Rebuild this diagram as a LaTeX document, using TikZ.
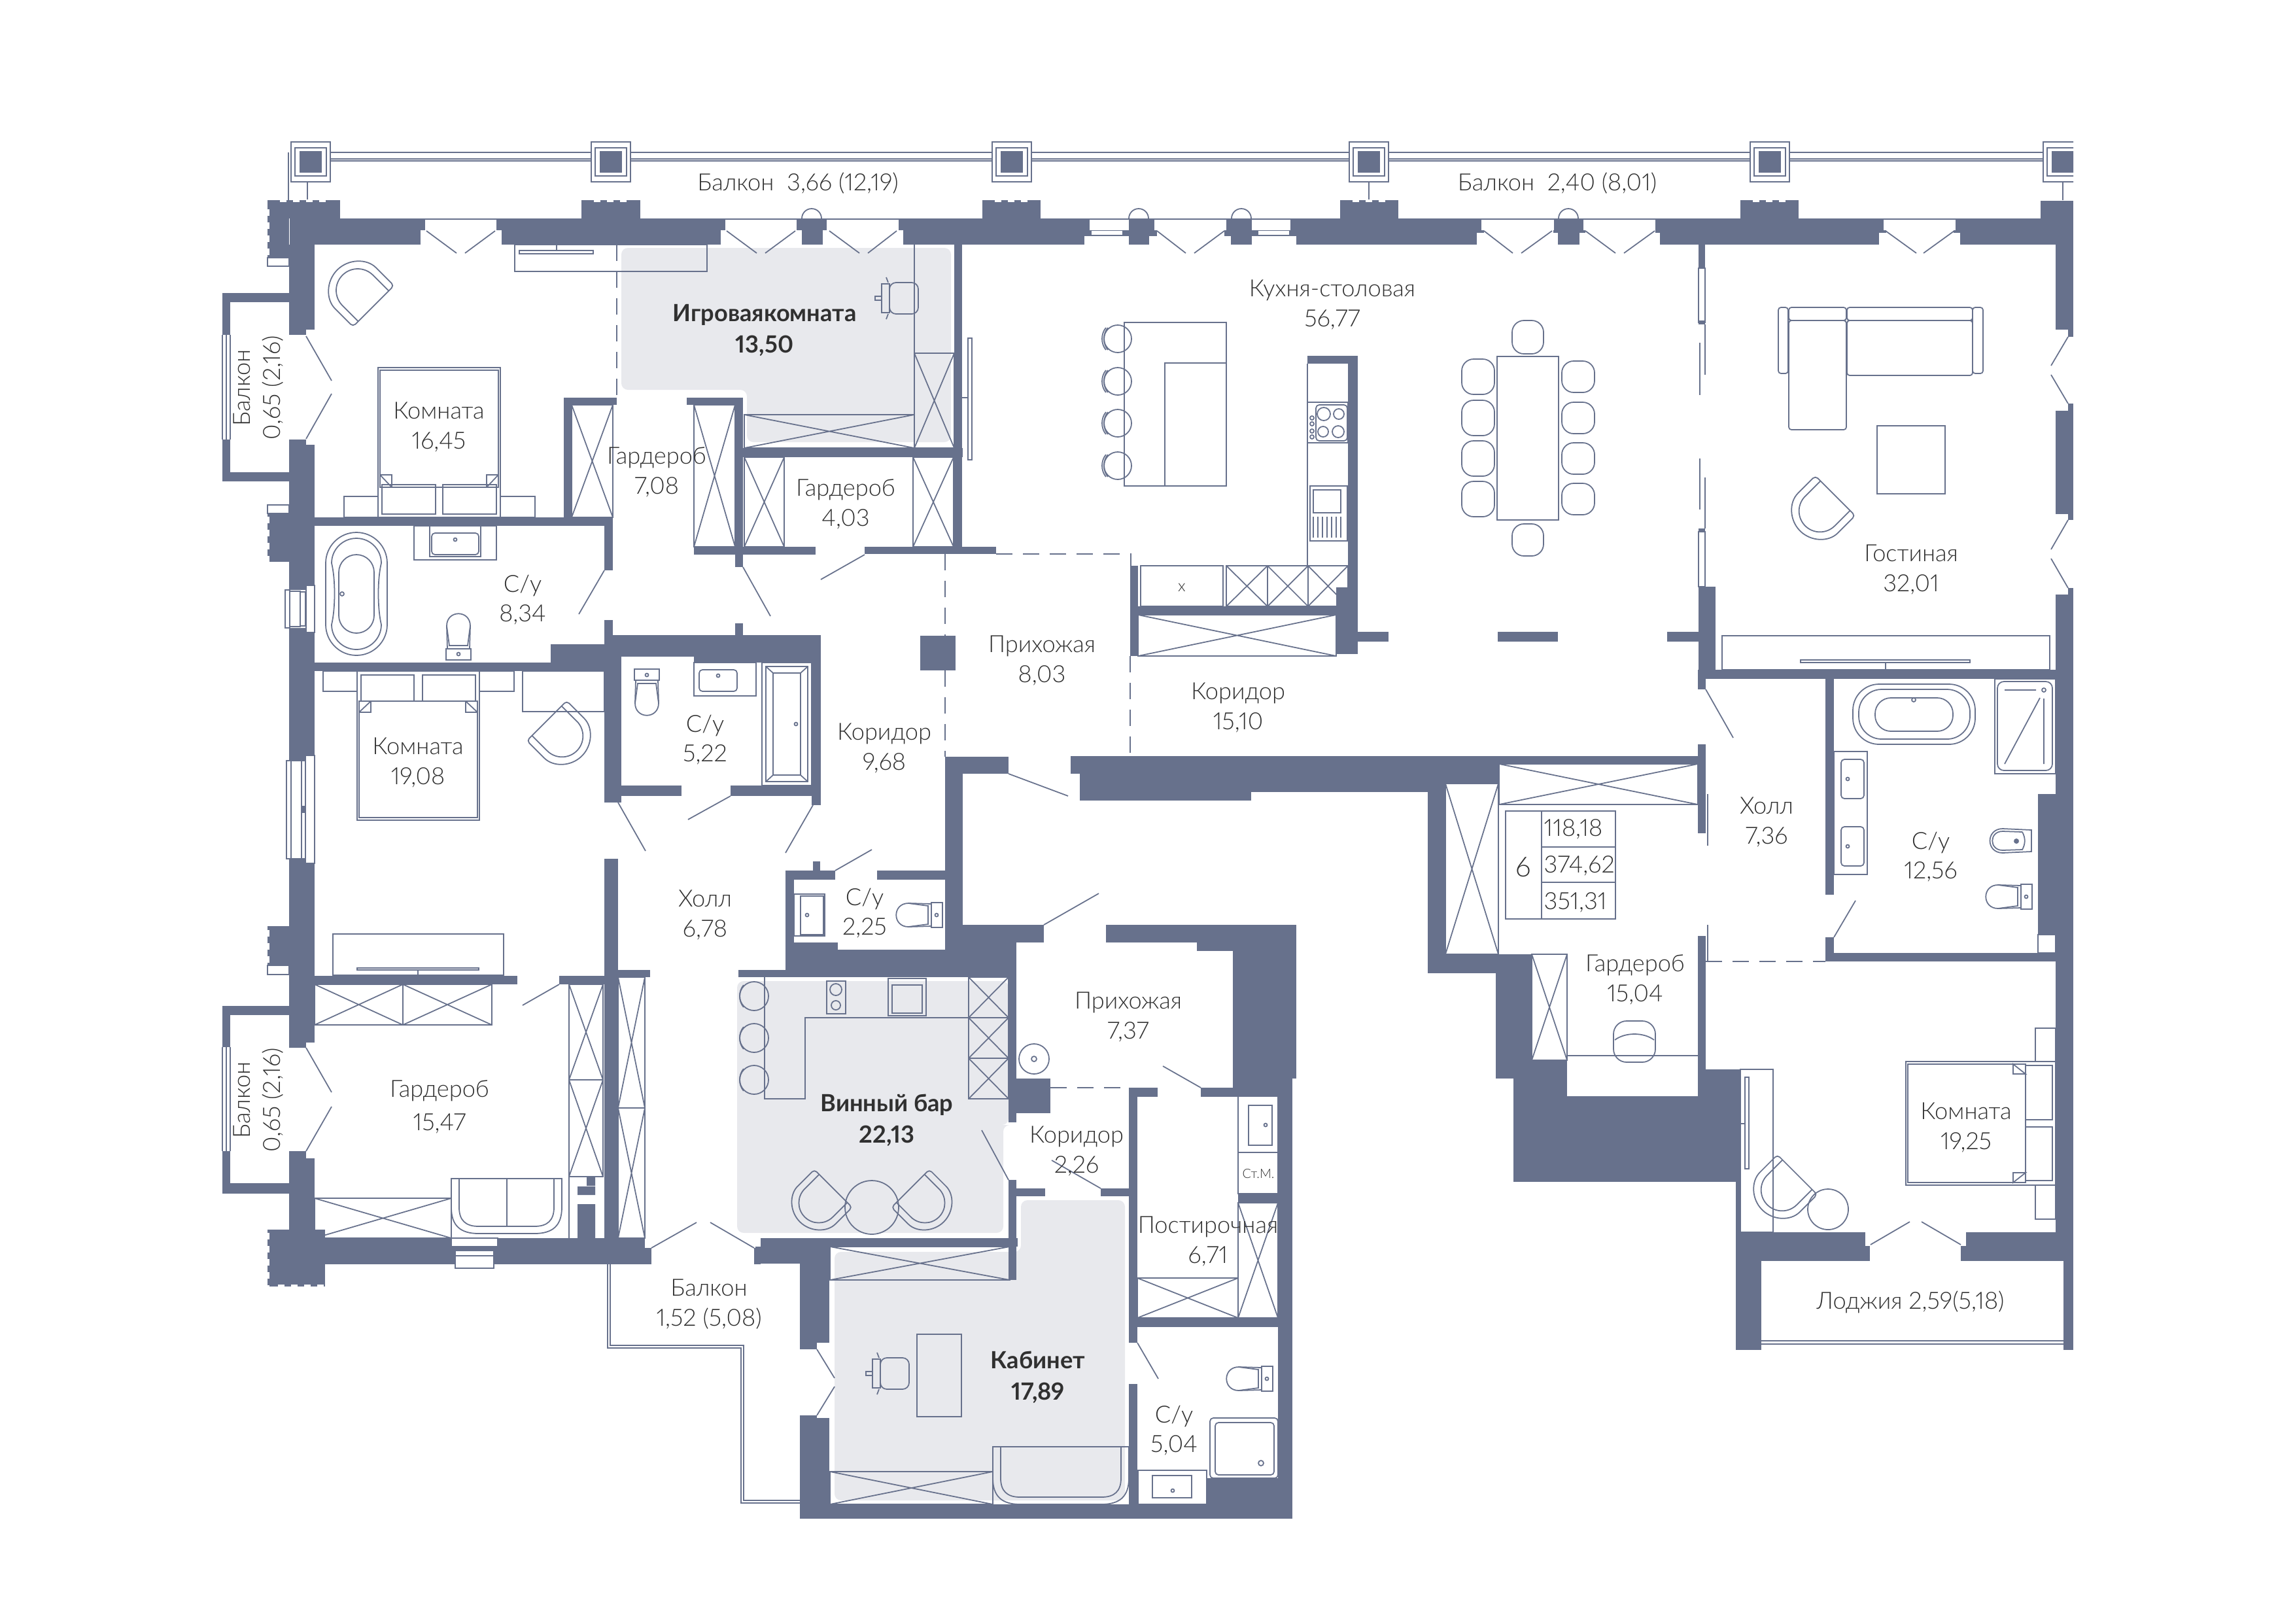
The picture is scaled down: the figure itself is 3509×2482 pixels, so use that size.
\documentclass[tikz,border=0pt]{standalone}
\usepackage{fontspec}
\setmainfont{Lato}[UprightFont=* Light,BoldFont=* Bold,Numbers=Proportional]
\definecolor{wallblue}{HTML}{67718C}
\definecolor{roomgray}{HTML}{E8E9ED}
\definecolor{labelgray}{HTML}{303030}
\tikzset{
  ln/.style={draw=wallblue,line width=0.5pt},
  dashln/.style={draw=wallblue,line width=0.5pt,dash pattern=on 2.5mm off 1.6mm},
  room/.style={text=labelgray,font=\fontsize{10.3}{13}\selectfont,align=center,inner sep=0pt,yshift=-0.3mm},
  roomb/.style={text=labelgray,font=\bfseries\fontsize{10.3}{13.5}\selectfont,align=center,inner sep=0pt,yshift=-0.3mm}
}
% furniture in picture coordinates
\newcommand{\xbox}[4]{\draw[ln] (#1,#2) rectangle (#3,#4) (#1,#2) -- (#3,#4) (#1,#4) -- (#3,#2);}
\newcommand{\armchair}[4]{\begin{scope}[shift={(#1,#2)},rotate=#3,scale=#4]
  \draw[ln,rounded corners=0.5mm] (-43,0) -- (-43,33) arc[start angle=180,end angle=0,radius=43] -- (43,0) -- cycle;
  \draw[ln] (-32,0) -- (-32,33) arc[start angle=180,end angle=0,radius=32] -- (32,0);
  \end{scope}}
\newcommand{\toilet}[3]{\begin{scope}[shift={(#1,#2)},rotate=#3]
  \draw[ln] (-8,-19) rectangle (9,19);
  \draw[ln] (-8,-17) -- (-43,-18) .. controls (-68,-18) and (-68,18) .. (-43,18) -- (-8,17);
  \draw[ln] (-43,-18) -- (-13,-14) -- (-13,14) -- (-43,18);
  \draw[ln] (0,0) circle (2.5);
  \end{scope}}
\newcommand{\officechair}[3]{\begin{scope}[shift={(#1,#2)},rotate=#3]
  \draw[ln,rounded corners=1mm] (-22,-24) rectangle (22,24);
  \draw[ln] (-34,-22) rectangle (-22,22) (-44,-3) rectangle (-34,3) (-24,-24) -- (-27,-32) (-24,24) -- (-27,32);
  \end{scope}}
\newcommand{\ubench}[4]{\draw[ln] (#1,#2) -- (#1,#4-40) .. controls (#1,#4-12) and (#1+14,#4) .. (#1+42,#4) -- (#3-42,#4) .. controls (#3-14,#4) and (#3,#4-12) .. (#3,#4-40) -- (#3,#2) -- cycle;
  \draw[ln] (#1+12,#2) -- (#1+12,#4-40) .. controls (#1+12,#4-20) and (#1+22,#4-11) .. (#1+42,#4-11) -- (#3-42,#4-11) .. controls (#3-22,#4-11) and (#3-12,#4-20) .. (#3-12,#4-40) -- (#3-12,#2);}
\begin{document}
\begin{tikzpicture}[x=0.1mm,y=-0.1mm]
    \useasboundingbox (0,0) rectangle (3509,2482);
    % shaded rooms
    \fill[roomgray,rounded corners=1mm] (950,379) -- (1454,379) -- (1454,676) -- (1142,676) -- (1142,596) -- (950,596) -- cycle;
    \fill[roomgray,rounded corners=1mm] (1127,1500) -- (1542,1500) -- (1542,1720) -- (1534,1720) -- (1534,1885) -- (1127,1885) -- cycle;
    \fill[roomgray,rounded corners=1mm] (1276,1914) -- (1561,1914) -- (1561,1835) -- (1720,1835) -- (1720,2294) -- (1276,2294) -- cycle;
    % balcony rails
    \begin{scope}
    \clip (0,0) rectangle (3170,2482);
    \draw[ln] (445,233) -- (3170,233) (445,243) -- (3170,243) (445,246) -- (3170,246);
    \draw[ln] (441,233) -- (441,306) (3154,278) -- (3154,306);
    \foreach \px in {475,934,1547,2093,2706,3154} {
      \fill[white] (\px-30,217) rectangle (\px+30,278);
      \draw[ln] (\px-30,217) rectangle (\px+30,278);
      \draw[ln] (\px-24,226) rectangle (\px+24,269);
      \fill[wallblue] (\px-17,231) rectangle (\px+17,264);
    }
    \end{scope}
    \draw[ln] (470,278) -- (470,306) (2093,278) -- (2093,306);
    \draw[ln] (933,1933) -- (933,2057) -- (1137,2057) -- (1137,2294) -- (1223,2294);
    \draw[ln] (929,1933) -- (929,2061) -- (1133,2061) -- (1133,2298) -- (1223,2298);
    \draw[ln] (2693,2050) -- (3155,2050) (2693,2055) -- (3155,2055);
    \foreach \px in {1241,1741,1898,2398} {
      \draw[ln] (\px-15,334) arc[start angle=180,end angle=360,radius=15];
    }
    % wardrobes
    \foreach \a/\b/\c/\d in {1138/634/1398/685,1398/540/1459/685,874/619/937/791,1061/619/1124/836,
      1138/699/1199/836,1396/699/1458/836,1875/865/1938/927,1938/865/2000/927,2000/865/2061/927,
      1740/940/2043/1003,2292/1168/2596/1230,2210/1198/2291/1459,2342/1459/2396/1621,
      481/1505/616/1567,616/1505/752/1567,870/1505/922/1651,870/1651/922/1799,945/1494/986/1694,
      945/1694/986/1893,481/1832/690/1893,1481/1494/1542/1556,1481/1556/1542/1618,1481/1618/1542/1680,
      1269/1906/1544/1957,1269/2250/1518/2300,1739/1954/1893/2015,1893/1839/1954/2015} {
      \xbox{\a}{\b}{\c}{\d}
    }
    % room 16,45
    \draw[ln] (787,374) rectangle (1081,415) (1398,374) -- (1398,540);
    \draw[ln] (794,383) rectangle (907,388) (851,374) -- (851,383);
    \armchair{571}{468}{225}{1.03}
    \draw[ln] (578,562) rectangle (765,791) (581,566) rectangle (762,745);
    \draw[ln] (581,726) -- (599,726) -- (599,745) (762,726) -- (744,726) -- (744,745) (581,726) -- (599,745) (762,726) -- (744,745);
    \draw[ln] (584,741) rectangle (666,786) (677,741) rectangle (759,786);
    \draw[ln] (526,759) rectangle (578,791) (765,759) rectangle (818,791);
    % bath 8,34
    \draw[ln,rounded corners=4.7mm] (498,814) rectangle (592,1002);
    \draw[ln] (507,861) arc[start angle=180,end angle=360,radius=38] .. controls (577,885) and (577,930) .. (583,955) arc[start angle=0,end angle=180,radius=38] .. controls (513,930) and (513,885) .. (507,861) -- cycle;
    \draw[ln,rounded corners=2.7mm] (518,848) rectangle (572,968);
    \draw[ln] (523,908) circle (3);
    \draw[ln] (633,804) rectangle (759,856) (657,804) rectangle (735,851);
    \draw[ln,rounded corners=0.5mm] (660,815) rectangle (732,848);
    \draw[ln] (696,825) circle (2.5);
    \toilet{701}{1000}{-90}
    % bath 5,22
    \toilet{989}{1032}{90}
    \draw[ln] (1061,1013) rectangle (1156,1064);
    \draw[ln,rounded corners=0.5mm] (1069,1024) rectangle (1127,1057);
    \draw[ln] (1098,1033) circle (2.5);
    \draw[ln] (1165,1013) rectangle (1241,1201) (1171,1019) rectangle (1235,1195) (1182,1029) rectangle (1224,1185);
    \draw[ln] (1171,1019) -- (1182,1029) (1235,1019) -- (1224,1029) (1171,1195) -- (1182,1185) (1235,1195) -- (1224,1185);
    \draw[ln] (1217,1107) circle (2.5);
    % room 19,08
    \draw[ln] (546,1026) rectangle (733,1254) (549,1072) rectangle (730,1250);
    \draw[ln] (549,1089) -- (567,1072) (730,1089) -- (712,1072) (549,1089) -- (567,1089) -- (567,1072) (730,1089) -- (712,1089) -- (712,1072);
    \draw[ln] (552,1032) rectangle (633,1072) (646,1032) rectangle (727,1072);
    \draw[ln] (494,1026) rectangle (546,1057) (733,1026) rectangle (786,1057);
    \draw[ln] (799,1026) rectangle (924,1088);
    \armchair{836}{1102}{45}{1}
    % room 15,47
    \draw[ln] (509,1428) rectangle (770,1491) (546,1480) rectangle (732,1483) (639,1483) -- (639,1491);
    \ubench{690}{1802}{859}{1886}
    \draw[ln] (775,1802) -- (775,1875) (870,1799) -- (870,1893);
    \fill[wallblue] (897,1800) rectangle (910,1813) (883,1814) rectangle (910,1827) (883,1841) rectangle (910,1893);
    % kitchen
    \draw[ln] (1480,517) rectangle (1486,703) (1471,608) -- (1480,608);
    \draw[ln] (1719,493) rectangle (1875,743) (1781,555) rectangle (1875,743);
    \foreach \py in {518,583,647,712} {
      \draw[ln] (1709,\py) circle (21);
      \draw[ln] (1694,\py-17) .. controls (1686,\py-8) and (1686,\py+8) .. (1694,\py+17);
      \draw[ln] (1691,\py-17) .. controls (1683,\py-8) and (1683,\py+8) .. (1691,\py+17);
    }
    \draw[ln] (1999,556) -- (1999,865) (1999,615) rectangle (2061,677);
    \draw[ln,rounded corners=0.5mm] (2012,619) rectangle (2060,674);
    \draw[ln] (2024,633) circle (10) (2047,633) circle (8) (2023,660) circle (8) (2046,660) circle (9);
    \foreach \py in {639,648,659,668} { \draw[ln] (2006,\py) circle (3); }
    \draw[ln] (2003,743) rectangle (2060,827) (2008,749) rectangle (2050,784);
    \foreach \px in {2008,2015,...,2050} { \draw[ln] (\px,790) -- (\px,822); }
    \draw[ln] (1744,865) rectangle (1870,927);
    \node[text=labelgray,font=\fontsize{7}{8}\selectfont,inner sep=0pt] (ovenmark) at (1807,898) {x};
    % dining set
    \draw[ln] (2289,545) rectangle (2383,795);
    \foreach \py in {576,639,701,763} {
      \draw[ln,rounded corners=1.8mm] (2235,\py-27) rectangle (2285,\py+27);
      \draw[ln,rounded corners=1.8mm] (2388,\py-24) rectangle (2438,\py+24);
    }
    \draw[ln,rounded corners=1.8mm] (2312,490) rectangle (2360,541) (2312,801) rectangle (2360,850);
    % living room
    \draw[ln,rounded corners=0.4mm] (2719,470) rectangle (2734,571) (3016,470) rectangle (3032,571);
    \draw[ln,rounded corners=0.4mm] (2735,470) rectangle (2823,490) (2824,470) rectangle (3016,490);
    \draw[ln,rounded corners=0.4mm] (2824,490) rectangle (3016,574) (2735,490) rectangle (2823,657);
    \draw[ln] (2870,651) rectangle (2974,755);
    \armchair{2806}{758}{-45}{1}
    \draw[ln] (2633,972) rectangle (3134,1024) (2753,1009) rectangle (3012,1013) (2883,1013) -- (2883,1024);
    \draw[ln] (2597,410) rectangle (2607,493) (2597,813) rectangle (2607,897);
    \draw[ln] (2607,496) -- (2607,573) (2599,524) -- (2599,604) (2599,701) -- (2599,779) (2607,730) -- (2607,808);
    % bath 12,56
    \draw[ln,rounded corners=4mm] (2833,1046) rectangle (3020,1138);
    \draw[ln,rounded corners=3.5mm] (2842,1054) rectangle (3012,1130);
    \draw[ln,rounded corners=2.4mm] (2867,1067) rectangle (2986,1118);
    \draw[ln] (2926,1070) circle (3);
    \draw[ln] (3050,1038) rectangle (3143,1183);
    \draw[ln,rounded corners=1mm] (3054,1042) rectangle (3138,1178);
    \draw[ln] (3065,1055) -- (3113,1055) (3125,1055) circle (3) (3125,1068) -- (3125,1168) (3119,1067) -- (3065,1168);
    \draw[ln] (2804,1149) rectangle (2855,1337);
    \draw[ln,rounded corners=0.5mm] (2815,1161) rectangle (2850,1221) (2815,1264) rectangle (2850,1324);
    \draw[ln] (2825,1191) circle (2.5) (2825,1294) circle (2.5);
    \toilet{3098}{1371}{0}
    \draw[ln] (3106,1269) -- (3062,1267) .. controls (3036,1267) and (3036,1304) .. (3062,1304) -- (3106,1302) -- cycle;
    \draw[ln] (3092,1272) -- (3062,1271) .. controls (3041,1271) and (3041,1300) .. (3062,1300) -- (3092,1299) .. controls (3097,1290) and (3097,1281) .. (3092,1272);
    \fill[wallblue] (3083,1286) circle (4);
    \draw[ln] (3116,1429) rectangle (3143,1457);
    % room 15,04 and table
    \draw[ln] (2396,1614) -- (2596,1614);
    \draw[ln,rounded corners=2mm] (2467,1561) rectangle (2531,1624);
    \draw[ln] (2469,1590) .. controls (2485,1578) and (2513,1578) .. (2529,1590);
    \draw[ln] (2302,1240) rectangle (2470,1405) (2357,1240) -- (2357,1405) (2357,1295) -- (2470,1295) (2357,1349) -- (2470,1349);
    \draw[ln] (2611,1214) -- (2611,1293) (2611,1414) -- (2611,1470);
    % room 19,25
    \draw[ln] (2661,1635) rectangle (2711,1884) (2668,1647) rectangle (2674,1787) (2661,1718) -- (2668,1718);
    \armchair{2748}{1796}{-45}{1}
    \draw[ln] (2795,1849) circle (31);
    \draw[ln] (2914,1623) rectangle (3143,1812) (2917,1627) rectangle (3097,1808);
    \draw[ln] (3078,1627) -- (3078,1642) -- (3097,1642) -- cycle (3078,1808) -- (3078,1793) -- (3097,1793) -- cycle;
    \draw[ln] (3097,1629) rectangle (3138,1712) (3097,1723) rectangle (3138,1805);
    \draw[ln] (3112,1572) rectangle (3143,1623) (3112,1812) rectangle (3143,1864);
    % C/u 2,25 and wine bar
    \draw[ln] (1214,1367) rectangle (1261,1431) (1224,1370) rectangle (1259,1429) (1234,1399) circle (2.5);
    \toilet{1432}{1399}{0}
    \draw[ln] (1169,1494) -- (1169,1680) -- (1231,1680) -- (1231,1556) -- (1481,1556);
    \draw[ln] (1264,1500) rectangle (1293,1550) (1278,1513) circle (9) (1278,1537) circle (7);
    \draw[ln] (1358,1496) rectangle (1416,1553) (1364,1506) rectangle (1410,1549);
    \foreach \py in {1523,1587,1651} {
      \draw[ln] (1153,\py) circle (22);
      \draw[ln] (1137,\py-17) .. controls (1129,\py-8) and (1129,\py+8) .. (1137,\py+17);
    }
    \draw[ln] (1333,1846) circle (41);
    \armchair{1274}{1817}{-45}{0.95}
    \armchair{1392}{1817}{45}{0.95}
    % hall and laundry
    \draw[ln] (1581,1619) circle (23) (1581,1619) circle (4);
    \draw[ln] (1893,1676) rectangle (1954,1762) (1909,1690) rectangle (1945,1751) (1935,1720) circle (2.5);
    \draw[ln] (1893,1762) rectangle (1954,1825);
    \node[text=labelgray,font=\fontsize{5.6}{7}\selectfont,inner sep=0pt] (stm) at (1924,1795) {Ст.М.};
    % cabinet
    \draw[ln] (1402,2040) rectangle (1470,2166);
    \officechair{1368}{2100}{0}
    \officechair{1382}{456}{0}
    \ubench{1518}{2212}{1726}{2300}
    \draw[ln,rounded corners=0.5mm] (1850,2168) rectangle (1954,2260) (1858,2175) rectangle (1948,2255);
    \draw[ln] (1928,2237) circle (4);
    \toilet{1937}{2108}{0}
    \draw[ln] (1740,2248) rectangle (1845,2300) (1762,2256) rectangle (1822,2290) (1793,2279) circle (2.5);
    % walls
    \fill[wallblue] (443,334) rectangle (3170,374);
    \foreach \a/\b/\c/\d in {650/336/759/352,643/352/767/375,1109/336/1218/352,1102/352/1226/375,
      1258/352/1381/375,1264/336/1374/352,1666/336/1726/352,1669/353/1716/359,1658/361/1726/375,
      1765/336/1875/352,1769/352/1872/361,1757/361/1882/375,1914/336/1973/352,1924/353/1971/359,
      1914/361/1982/375,2265/336/2376/352,2269/352/2375/356,2258/356/2382/375,2421/336/2531/352,
      2424/352/2531/356,2415/356/2538/375,2880/336/2990/352,2884/352/2987/356,2873/356/2997/375} {
      \fill[white] (\a,\b) rectangle (\c,\d);
    }
    \foreach \a/\b/\c/\d in {409/306/520/334,409/334/442/394,889/306/979/334,1502/306/1591/334,
      2049/306/2138/334,2661/306/2750/334,3120/307/3170/374,409/785/442/859,409/1416/442/1476,409/1880/497/1967,
      442/374/481/504,442/504/468/512,442/672/468/680,442/680/481/1594,442/1594/468/1602,442/1760/468/1771,442/1771/481/1933,
      340/448/442/462,340/722/442/736,340/462/352/512,340/672/352/722,
      340/1538/442/1552,340/1809/442/1825,340/1552/352/1601,340/1760/352/1809,
      481/791/937/804,924/804/937/872,862/608/874/791,862/608/943/619,1050/608/1136/619,1124/608/1136/867,
      1061/836/1247/848,1136/685/1472/699,1322/836/1523/847,1459/374/1471/847,
      1124/953/1136/971,924/948/937/971,924/971/1255/1004,924/1004/950/1227,1061/1004/1241/1013,1241/971/1255/1231,
      950/1201/1042/1217,1117/1201/1255/1217,481/1013/924/1026,842/985/924/1013,
      924/1313/945/1893,481/1492/791/1505,855/1492/924/1505,945/1483/994/1494,
      481/1893/986/1933,986/1908/996/1933,1153/1908/1163/1933,1163/1893/1556/1906,1155/1906/1269/1932,
      1223/1932/1268/2053,1223/2053/1249/2063,1223/2164/1249/2168,1223/2168/1268/2322,1223/2300/1976/2322,
      1542/1804/1554/1957,1542/1441/1554/1716,1554/1649/1606/1702,1554/1817/1598/1829,1683/1817/1739/1829,
      1726/1664/1739/2053,1726/2116/1739/2300,1726/1663/1770/1677,1836/1663/1954/1677,
      1201/1331/1277/1345,1341/1331/1445/1345,1243/1317/1254/1331,1201/1331/1214/1483,1214/1441/1281/1483,
      1281/1452/1445/1483,1129/1483/1554/1494,1445/1157/1472/1441,1445/1414/1554/1494,1542/1414/1596/1441,
      1445/1157/1542/1183,1637/1156/2291/1183,1651/1183/1913/1224,1913/1183/2183/1211,2183/1183/2291/1198,
      2291/1156/2596/1168,2596/1138/2608/1274,2597/897/2623/1024,2596/1024/2608/1054,2596/1431/2608/1635,
      2183/1198/2210/1488,2183/1459/2287/1488,2287/1459/2342/1649,2342/1621/2396/1649,2314/1649/2396/1676,
      2314/1676/2654/1807,2596/1635/2661/1676,2608/1676/2654/1807,2654/1635/2661/1884,
      2654/1884/2852/1928,2852/1905/2859/1928,2654/1928/2693/2064,2998/1905/3006/1928,3006/1884/3170/1928,
      3155/1928/3170/2064,3143/374/3170/504,3162/504/3170/515,3162/617/3170/628,3143/628/3170/786,
      3162/786/3170/795,3162/899/3170/909,3143/909/3170/1884,
      2597/1024/3170/1038,2549/966/2597/981,2290/966/2382/981,2076/966/2123/981,2061/544/2076/900,
      1999/544/2076/556,2043/898/2076/1000,1728/927/2043/940,1728/865/1740/1003,
      2791/1038/2804/1368,2791/1433/2804/1470,2791/1457/3170/1470,3116/1214/3143/1429,
      1407/972/1461/1025,2597/490/2607/496,2597/808/2607/813,2597/374/2607/410,
      1885/1414/1982/1649,1885/1649/1976/1677,1954/1649/1976/2322,1691/1414/1885/1441,1830/1441/1885/1454,
      1893/1825/1954/1839,1739/2015/1954/2029,1845/2260/1954/2300} {
      \fill[wallblue] (\a,\b) rectangle (\c,\d);
    }
    \draw[line width=1pt,white,dash pattern=on 1mm off 1mm] (1521,307) -- (1575,307) (2068,307) -- (2122,307) (2680,307) -- (2734,307) (908,307) -- (962,307) (428,307) -- (505,307);
    \draw[line width=1pt,white,dash pattern=on 1mm off 1mm] (410,320) -- (410,394) (410,790) -- (410,859) (410,1422) -- (410,1476) (410,1885) -- (410,1967) (425,1966) -- (497,1966);
    % window frames in the left wall
    \fill[white] (436,902) rectangle (467,960) (468,895) rectangle (481,967) (438,1163) rectangle (467,1313) (467,1155) rectangle (481,1320);
    \draw[ln] (436,902) rectangle (443,960) (443,904) rectangle (459,958) (459,905) rectangle (467,957);
    \draw[ln] (468,895) rectangle (481,967);
    \draw[ln] (438,1163) rectangle (445,1313) (445,1163) rectangle (461,1313) (461,1163) rectangle (467,1313);
    \draw[ln] (467,1155) rectangle (481,1320);
    \fill[wallblue] (461,1232) rectangle (467,1243);
    % openings in bottom wall
    \fill[white] (690,1893) rectangle (761,1906) (696,1912) rectangle (755,1939);
    \draw[ln] (690,1893) rectangle (761,1906) (696,1912) rectangle (755,1939) (696,1920) -- (755,1920);
    % balcony windows
    \draw[ln] (340,512) -- (340,672) (346,512) -- (346,672) (352,512) -- (352,672);
    \draw[ln] (340,1601) -- (340,1760) (346,1601) -- (346,1760) (352,1601) -- (352,1760);
    \draw[ln] (409,394) rectangle (442,407) (409,772) rectangle (442,785) (409,1476) rectangle (442,1490);
    % door leaves
    \foreach \a/\b/\c/\d in {652/353/698/387,757/353/711/387,1111/353/1157/387,1216/353/1170/387,
      1268/353/1314/387,1371/353/1327/387,1769/353/1813/387,1872/353/1826/387,2269/353/2313/387,
      2373/353/2326/387,2424/353/2470/387,2530/353/2483/387,2883/353/2930/387,2988/353/2941/387,
      468/514/507/582,468/671/507/602,468/1602/507/1670,468/1760/507/1692,
      3162/515/3136/559,3136/573/3162/617,3162/795/3136/840,3136/854/3162/899,
      924/872/885/939,1136/867/1178/942,1322/848/1255/886,1117/1217/1052/1253,945/1227/987/1301,
      1243/1231/1201/1304,1277/1331/1333/1299,855/1505/799/1537,996/1908/1065/1869,1153/1908/1086/1869,
      1542/1183/1633/1217,1596/1414/1680/1366,1836/1663/1778/1630,1542/1804/1501/1728,1683/1817/1608/1774,
      1739/2053/1771/2108,1249/2063/1276/2107,1249/2164/1276/2120,2608/1054/2650/1128,2804/1433/2837/1377,
      2860/1903/2920/1868,2998/1903/2938/1868} {
      \draw[ln] (\a,\b) -- (\c,\d);
    }
    % dashed room borders
    \draw[dashln] (943,374) -- (943,608);
    \draw[dashln] (1445,847) -- (1445,972);
    \draw[dashln] (1445,1025) -- (1445,1157);
    \draw[dashln] (1523,847) -- (1729,847) -- (1729,865);
    \draw[dashln] (1728,1003) -- (1728,1156);
    \draw[dashln] (1606,1663) -- (1726,1663);
    \draw[dashln] (2608,1470) -- (2791,1470);
    % labels
    \node[room] (balconyA) at (1220,277) {Балкон\ \ 3,66 (12,19)};
    \node[room] (balconyB) at (2381,277) {Балкон\ \ 2,40 (8,01)};
    \node[room,rotate=90] (balconyC) at (395,590) {Балкон\\0,65 (2,16)};
    \node[room,rotate=90] (balconyD) at (395,1679) {Балкон\\0,65 (2,16)};
    \node[room] (kitchen) at (2037,463) {Кухня-столовая\\56,77};
    \node[roomb] (gameroom) at (1169,502) {Игроваякомната\\13,50};
    \node[room] (roomA) at (671,650) {Комната\\16,45};
    \node[room] (wardrobeA) at (1004,719) {Гардероб\\7,08};
    \node[room] (wardrobeB) at (1293,768) {Гардероб\\4,03};
    \node[room] (bathA) at (799,914) {С/у\\8,34};
    \node[room] (roomB) at (639,1163) {Комната\\19,08};
    \node[room] (bathB) at (1078,1128) {С/у\\5,22};
    \node[room] (corridorA) at (1352,1141) {Коридор\\9,68};
    \node[room] (hallA) at (1078,1396) {Холл\\6,78};
    \node[room] (bathC) at (1322,1393) {С/у\\2,25};
    \node[room] (wardrobeC) at (672,1689) {Гардероб\\[1.5pt]15,47};
    \node[roomb] (winebar) at (1356,1710) {Винный бар\\22,13};
    \node[room] (balconyE) at (1084,1991) {Балкон\\1,52 (5,08)};
    \node[room] (entryA) at (1725,1552) {Прихожая\\7,37};
    \node[room] (corridorB) at (1646,1757) {Коридор\\2,26};
    \node[room] (laundry) at (1847,1895) {Постирочная\\6,71};
    \node[roomb] (cabinet) at (1587,2103) {Кабинет\\17,89};
    \node[room] (bathD) at (1795,2184) {С/у\\5,04};
    \node[room] (entryB) at (1593,1007) {Прихожая\\8,03};
    \node[room] (corridorC) at (1893,1079) {Коридор\\15,10};
    \node[room] (living) at (2922,868) {Гостиная\\32,01};
    \node[room] (hallB) at (2701,1254) {Холл\\7,36};
    \node[room] (bathE) at (2952,1307) {С/у\\12,56};
    \node[room] (wardrobeD) at (2500,1495) {Гардероб\\15,04};
    \node[room] (roomC) at (3006,1721) {Комната\\19,25};
    \node[room] (loggia) at (2921,1988) {Лоджия 2,59(5,18)};
    \node[room,font=\fontsize{12}{14}\selectfont] (flatno) at (2329,1323) {6};
    \node[room,anchor=west] (areaA) at (2360,1265) {118,18};
    \node[room,anchor=west] (areaB) at (2360,1321) {374,62};
    \node[room,anchor=west] (areaC) at (2360,1377) {351,31};
\end{tikzpicture}
\end{document}
